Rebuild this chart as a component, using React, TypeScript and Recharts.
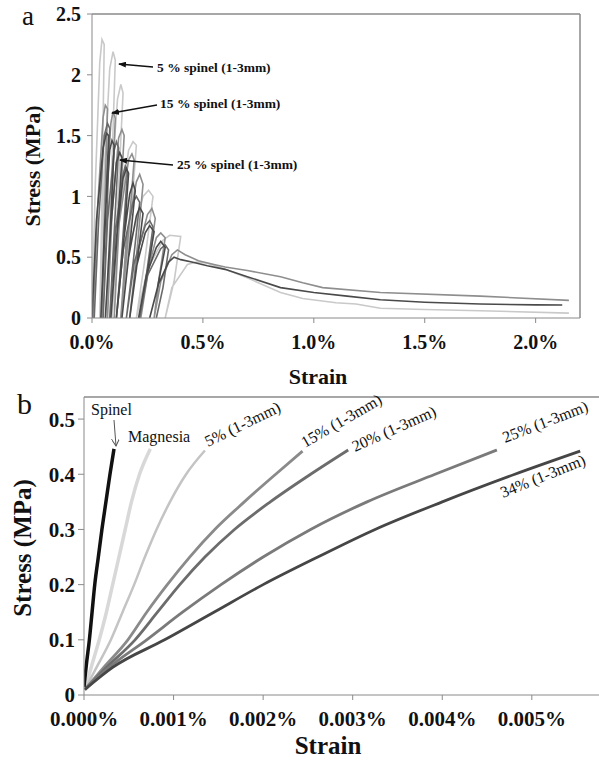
import { LineChart, Line, XAxis, YAxis, ReferenceLine } from "recharts";

type Pt = [number, number];

// ---- panel a : cyclic compression, strain in %, stress in MPa ----
const spinel5Cycles: Pt[] = [
  [0, 0], [0.015, 1.1], [0.035, 2.1], [0.045, 2.29], [0.055, 2.25], [0.045, 1.0], [0.035, 0],
  [0.055, 1.2], [0.08, 2.05], [0.095, 2.19], [0.105, 2.12], [0.085, 1.0], [0.065, 0],
  [0.085, 1.05], [0.115, 1.8], [0.13, 1.92], [0.14, 1.85], [0.115, 0.9], [0.09, 0],
  [0.12, 0.8], [0.165, 1.38], [0.185, 1.45], [0.2, 1.42], [0.17, 0.7], [0.13, 0],
  [0.17, 0.6], [0.23, 1.0], [0.255, 1.05], [0.275, 1.0], [0.24, 0.5], [0.2, 0],
  [0.25, 0.4], [0.32, 0.64], [0.35, 0.68], [0.4, 0.67], [0.37, 0.3], [0.33, 0],
  [0.36, 0.25], [0.43, 0.44], [0.47, 0.46], [0.52, 0.45], [0.6, 0.4], [0.7, 0.33],
  [0.85, 0.21], [0.95, 0.16], [1.1, 0.125], [1.19, 0.115], [1.3, 0.08], [1.5, 0.07],
  [1.75, 0.06], [2.15, 0.04],
];

const spinel15Cycles: Pt[] = [
  [0.005, 0], [0.025, 0.9], [0.05, 1.65], [0.06, 1.75], [0.07, 1.72], [0.055, 0.8], [0.045, 0],
  [0.06, 0.95], [0.085, 1.6], [0.095, 1.7], [0.105, 1.64], [0.085, 0.8], [0.07, 0],
  [0.09, 0.85], [0.12, 1.48], [0.135, 1.55], [0.145, 1.5], [0.12, 0.7], [0.1, 0],
  [0.12, 0.75], [0.165, 1.3], [0.18, 1.35], [0.19, 1.3], [0.16, 0.6], [0.13, 0],
  [0.155, 0.65], [0.2, 1.12], [0.215, 1.18], [0.23, 1.1], [0.2, 0.5], [0.17, 0],
  [0.2, 0.5], [0.25, 0.85], [0.27, 0.9], [0.285, 0.82], [0.255, 0.4], [0.22, 0],
  [0.25, 0.38], [0.29, 0.66], [0.31, 0.7], [0.33, 0.66], [0.3, 0.3], [0.28, 0],
  [0.31, 0.3], [0.36, 0.52], [0.385, 0.56], [0.42, 0.52], [0.48, 0.47], [0.55, 0.44],
  [0.6, 0.42], [0.7, 0.39], [0.85, 0.34], [0.95, 0.29], [1.04, 0.25], [1.3, 0.21],
  [1.75, 0.18], [2.15, 0.145],
];

const spinel25Cycles: Pt[] = [
  [0, 0], [0.02, 0.8], [0.05, 1.4], [0.065, 1.52], [0.075, 1.5], [0.058, 0.7], [0.04, 0],
  [0.058, 0.8], [0.08, 1.38], [0.09, 1.46], [0.1, 1.42], [0.082, 0.7], [0.06, 0],
  [0.085, 0.75], [0.11, 1.28], [0.125, 1.36], [0.135, 1.32], [0.11, 0.6], [0.085, 0],
  [0.11, 0.65], [0.14, 1.15], [0.155, 1.23], [0.165, 1.19], [0.14, 0.55], [0.11, 0],
  [0.14, 0.6], [0.17, 1.02], [0.185, 1.11], [0.195, 1.05], [0.165, 0.5], [0.135, 0],
  [0.165, 0.5], [0.2, 0.84], [0.215, 0.91], [0.23, 0.86], [0.2, 0.4], [0.17, 0],
  [0.2, 0.42], [0.24, 0.7], [0.26, 0.76], [0.28, 0.71], [0.245, 0.33], [0.21, 0],
  [0.245, 0.35], [0.29, 0.58], [0.31, 0.63], [0.33, 0.58], [0.295, 0.25], [0.26, 0],
  [0.3, 0.28], [0.345, 0.46], [0.37, 0.5], [0.4, 0.48], [0.45, 0.46], [0.52, 0.43],
  [0.6, 0.4], [0.7, 0.34], [0.85, 0.25], [1.0, 0.21], [1.15, 0.18], [1.3, 0.15],
  [1.5, 0.13], [1.75, 0.115], [2.0, 0.108], [2.12, 0.107],
];

// second 25 % specimen, stops before the tail
const spinel25bCycles: Pt[] = [
  [0.01, 0], [0.03, 0.8], [0.055, 1.5], [0.07, 1.6], [0.08, 1.56], [0.065, 0.7], [0.05, 0],
  [0.07, 0.8], [0.1, 1.38], [0.11, 1.45], [0.12, 1.4], [0.1, 0.7], [0.08, 0],
  [0.105, 0.7], [0.14, 1.18], [0.15, 1.25], [0.16, 1.2], [0.135, 0.55], [0.11, 0],
  [0.14, 0.55], [0.185, 0.95], [0.2, 1.0], [0.215, 0.95], [0.185, 0.45], [0.155, 0],
  [0.19, 0.45], [0.24, 0.76], [0.26, 0.8], [0.275, 0.75], [0.245, 0.35], [0.215, 0],
  [0.25, 0.35], [0.31, 0.57], [0.33, 0.6], [0.345, 0.56], [0.32, 0.25], [0.29, 0],
];

const aStrainTicks = [0, 0.5, 1, 1.5, 2];
const aStressTicks = [0, 0.5, 1, 1.5, 2, 2.5];

// ---- panel b : initial loading, strain in %, stress in MPa ----
const spinelCurve: Pt[] = [
  [0, 0.015], [0.00003, 0.06], [0.00006, 0.1], [0.00009, 0.15], [0.00012, 0.2],
  [0.00016, 0.25], [0.0002, 0.3], [0.000245, 0.35], [0.00029, 0.4], [0.000335, 0.446],
];
const magnesiaCurve: Pt[] = [
  [0.00001, 0.01], [0.00008, 0.05], [0.00017, 0.1], [0.00025, 0.15], [0.00032, 0.2],
  [0.00039, 0.25], [0.00046, 0.3], [0.00053, 0.35], [0.00062, 0.4], [0.00074, 0.446],
];
const sp5Curve: Pt[] = [
  [0.00001, 0.01], [0.00014, 0.05], [0.0003, 0.1], [0.00043, 0.15], [0.00056, 0.2],
  [0.00068, 0.25], [0.00081, 0.3], [0.00096, 0.35], [0.00114, 0.4], [0.00135, 0.443],
];
const sp15Curve: Pt[] = [
  [0.00001, 0.01], [0.00022, 0.05], [0.00049, 0.1], [0.0007, 0.15], [0.00093, 0.2],
  [0.00118, 0.25], [0.00146, 0.3], [0.00179, 0.35], [0.00214, 0.4], [0.00244, 0.442],
];
const sp20Curve: Pt[] = [
  [0.00001, 0.01], [0.00025, 0.05], [0.00057, 0.1], [0.00082, 0.15], [0.00107, 0.2],
  [0.00135, 0.25], [0.00168, 0.3], [0.00208, 0.35], [0.00253, 0.4], [0.00295, 0.444],
];
const sp25Curve: Pt[] = [
  [0.00001, 0.01], [0.00028, 0.05], [0.0007, 0.1], [0.0011, 0.15], [0.00153, 0.2],
  [0.002, 0.25], [0.00253, 0.3], [0.00316, 0.35], [0.00392, 0.4], [0.00461, 0.444],
];
const sp34Curve: Pt[] = [
  [0.00001, 0.01], [0.00032, 0.05], [0.0009, 0.1], [0.00145, 0.15], [0.002, 0.2],
  [0.00261, 0.25], [0.00325, 0.3], [0.004, 0.35], [0.00481, 0.4], [0.00554, 0.442],
];

const bStrainTicks = [0, 0.001, 0.002, 0.003, 0.004, 0.005];
const bStressTicks = [0, 0.1, 0.2, 0.3, 0.4, 0.5];

const rows = (pts: Pt[]) => pts.map(([strain, stress]) => ({ strain, stress }));

const serif = '"Liberation Serif", "Times New Roman", serif';
const axisGray = "#8a8a8a";

const panelA = [
  { key: "s5", pts: spinel5Cycles, color: "#c9c9c9" },
  { key: "s15", pts: spinel15Cycles, color: "#8e8e8e" },
  { key: "s25b", pts: spinel25bCycles, color: "#6a6a6a" },
  { key: "s25", pts: spinel25Cycles, color: "#4a4a4a" },
];

const panelB = [
  { key: "magnesia", pts: magnesiaCurve, color: "#d8d8d8", w: 3.5 },
  { key: "sp5", pts: sp5Curve, color: "#c4c4c4", w: 2.5 },
  { key: "sp15", pts: sp15Curve, color: "#8a8a8a", w: 2.8 },
  { key: "sp20", pts: sp20Curve, color: "#6c6c6c", w: 2.8 },
  { key: "sp25", pts: sp25Curve, color: "#7a7a7a", w: 2.8 },
  { key: "sp34", pts: sp34Curve, color: "#464646", w: 2.8 },
  { key: "spinel", pts: spinelCurve, color: "#111111", w: 3.5 },
];

const tickA = { fill: "#111", fontSize: 20, fontWeight: "bold", fontFamily: serif };
const tickB = { fill: "#111", fontSize: 21, fontWeight: "bold", fontFamily: serif };

export default function App() {
  return (
    <div
      style={{
        position: "absolute",
        left: 0,
        top: 0,
        width: 599,
        height: 761,
        background: "#fff",
        overflow: "hidden",
        fontFamily: serif,
      }}
    >
      <div style={{ position: "absolute", left: 0, top: 0 }}>
        {/* plot area: x 92..580, y 14..318 */}
        <LineChart width={599} height={390} margin={{ top: 14, right: 19, bottom: 32, left: 32 }}>
          <XAxis
            dataKey="strain"
            type="number"
            domain={[0, 2.2]}
            ticks={aStrainTicks}
            allowDataOverflow
            height={40}
            tickSize={5}
            tickMargin={12}
            stroke={axisGray}
            tick={tickA}
            tickFormatter={(v: number) => `${v.toFixed(1)}%`}
          />
          <YAxis
            dataKey="stress"
            type="number"
            domain={[0, 2.5]}
            ticks={aStressTicks}
            allowDataOverflow
            width={60}
            tickSize={5}
            tickMargin={6}
            stroke={axisGray}
            tick={tickA}
          />
          <ReferenceLine y={2.5} stroke={axisGray} strokeWidth={1.5} />
          <ReferenceLine x={2.2} stroke={axisGray} strokeWidth={1.5} />
          {panelA.map((s) => (
            <Line
              key={s.key}
              data={rows(s.pts)}
              dataKey="stress"
              type="linear"
              stroke={s.color}
              strokeWidth={1.6}
              dot={false}
              activeDot={false}
              isAnimationActive={false}
            />
          ))}
        </LineChart>
      </div>

      <div style={{ position: "absolute", left: 0, top: 380 }}>
        {/* plot area: x 84..599, y 397..695 */}
        <LineChart width={599} height={381} margin={{ top: 17, right: 0, bottom: 26, left: 24 }}>
          <XAxis
            dataKey="strain"
            type="number"
            domain={[0, 0.00575]}
            ticks={bStrainTicks}
            allowDataOverflow
            height={40}
            tickSize={5}
            tickMargin={11}
            stroke={axisGray}
            tick={tickB}
            tickFormatter={(v: number) => `${v.toFixed(3)}%`}
          />
          <YAxis
            dataKey="stress"
            type="number"
            domain={[0, 0.54]}
            ticks={bStressTicks}
            allowDataOverflow
            width={60}
            tickSize={6}
            tickMargin={3}
            stroke={axisGray}
            tick={tickB}
          />
          <ReferenceLine y={0.54} stroke={axisGray} strokeWidth={1.5} />
          {panelB.map((s) => (
            <Line
              key={s.key}
              data={rows(s.pts)}
              dataKey="stress"
              type="monotone"
              stroke={s.color}
              strokeWidth={s.w}
              dot={false}
              activeDot={false}
              isAnimationActive={false}
            />
          ))}
        </LineChart>
      </div>

      <svg
        width={599}
        height={761}
        style={{ position: "absolute", left: 0, top: 0, pointerEvents: "none" }}
        fontFamily={serif}
      >
        <defs>
          <marker id="headFill" markerWidth="8" markerHeight="6" refX="7" refY="3" orient="auto" markerUnits="userSpaceOnUse">
            <path d="M0,0 L8,3 L0,6 z" fill="#111" />
          </marker>
          <marker id="headOpen" markerWidth="8" markerHeight="8" refX="7" refY="4" orient="auto" markerUnits="userSpaceOnUse">
            <path d="M0,0 L7,4 L0,8" fill="none" stroke="#555" strokeWidth={1} />
          </marker>
        </defs>

        {/* panel a */}
        <text x={22} y={25} fontSize={27} fill="#111">a</text>
        <text
          x={32}
          y={166}
          fontSize={22}
          fontWeight="bold"
          textAnchor="middle"
          dominantBaseline="central"
          transform="rotate(-90 32 166)"
          fill="#111"
        >
          Stress (MPa)
        </text>
        <text x={318} y={384} fontSize={22} fontWeight="bold" textAnchor="middle" fill="#111">
          Strain
        </text>

        <line x1={153} y1={67} x2={119} y2={64} stroke="#111" strokeWidth={1.3} markerEnd="url(#headFill)" />
        <text x={157} y={72} fontSize={13.5} fontWeight="bold" fill="#111">5 % spinel (1-3mm)</text>
        <line x1={157} y1={105} x2={112} y2={113} stroke="#111" strokeWidth={1.3} markerEnd="url(#headFill)" />
        <text x={160} y={108} fontSize={13.5} fontWeight="bold" fill="#111">15 % spinel (1-3mm)</text>
        <line x1={173} y1={165} x2={120} y2={160} stroke="#111" strokeWidth={1.3} markerEnd="url(#headFill)" />
        <text x={177} y={169} fontSize={13.5} fontWeight="bold" fill="#111">25 % spinel (1-3mm)</text>

        {/* panel b */}
        <text x={17} y={414} fontSize={30} fill="#111">b</text>
        <text
          x={22}
          y={548}
          fontSize={25}
          fontWeight="bold"
          textAnchor="middle"
          dominantBaseline="central"
          transform="rotate(-90 22 548)"
          fill="#111"
        >
          Stress (MPa)
        </text>
        <text x={328} y={754} fontSize={25} fontWeight="bold" textAnchor="middle" fill="#111">
          Strain
        </text>

        <text x={91} y={415} fontSize={16} fill="#111">Spinel</text>
        <line x1={114} y1={420} x2={116} y2={446} stroke="#555" strokeWidth={1} markerEnd="url(#headOpen)" />
        <text x={128} y={442} fontSize={16} fill="#111">Magnesia</text>
        <text x={208} y={447} fontSize={16} fill="#111" transform="rotate(-26 208 447)">5% (1-3mm)</text>
        <text x={305} y={448} fontSize={16} fill="#111" transform="rotate(-30 305 448)">15% (1-3mm)</text>
        <text x={355} y={452} fontSize={16} fill="#111" transform="rotate(-24 355 452)">20% (1-3mm)</text>
        <text x={505} y={443} fontSize={16} fill="#111" transform="rotate(-21 505 443)">25% (1-3mm)</text>
        <text x={503} y={498} fontSize={16} fill="#111" transform="rotate(-22 503 498)">34% (1-3mm)</text>
      </svg>
    </div>
  );
}
